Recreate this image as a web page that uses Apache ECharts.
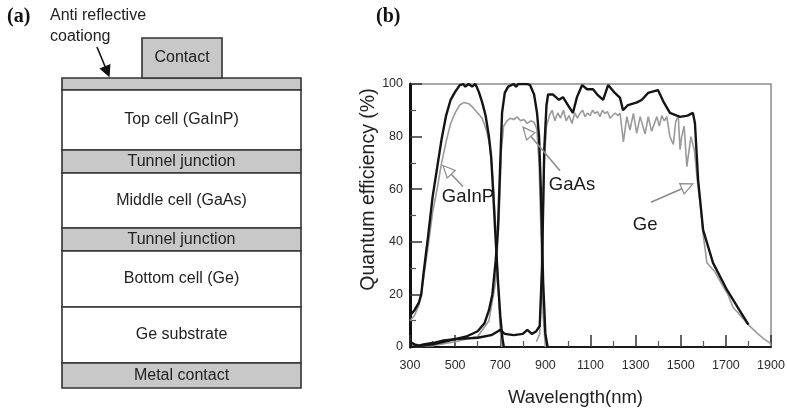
<!DOCTYPE html>
<html><head><meta charset="utf-8">
<script src="https://cdn.jsdelivr.net/npm/echarts@6/dist/echarts.min.js"></script>
<style>html,body{margin:0;padding:0;background:#fff}#c{width:787px;height:408px}</style>
</head><body><div id="c"></div>
<script>
// ---------- data ----------
const gainpIdealX = [300,320,340,350,360,370,380,400,420,440,460,480,500,520,535,545,560,575,590,605,620,635,650,660,668,677,690,700,710,716];
const gainpIdealY = [12,14,17,20,28,35,42,57,68,79,88,94,97,99.5,100,99,100,99,100,97,93,88,80,72,60,45,25,12,3,0];
const gainpMeasX = [300,320,340,360,380,400,420,440,460,480,500,520,540,560,580,600,620,640,655,668,680,690,700,708];
const gainpMeasY = [10,12,16,26,38,51,60,70,78,85,89,92,93,92.5,91,89,87,82,76,63,45,25,6,0];
const gaasIdealX = [300,350,400,450,500,550,600,630,650,665,680,690,700,708,720,735,760,770,780,800,820,832,850,863,872,880,890,900,910];
const gaasIdealY = [0,0.5,1,2,3,4,6,9,14,20,33,45,70,89,96.6,99,100,99,100,100,100,99.6,96,89,80,60,25,5,0];
const gaasMeasX = [300,400,500,600,650,680,695,705,715,730,745,760,775,790,805,820,835,850,862,872,880,890,900];
const gaasMeasY = [0,0.5,2,4,10,25,50,75,84,86,87,86.5,87.5,86,86.5,85,86,85.5,83,70,45,12,0];
const geIdealX = [300,320,340,360,400,450,500,600,660,690,700,720,760,800,820,840,860,875,885,895,905,912,934,960,978,1000,1022,1040,1063,1085,1111,1130,1156,1178,1208,1231,1244,1266,1306,1328,1355,1399,1425,1452,1497,1530,1554,1563,1577,1599,1643,1705,1760,1800];
const geIdealY = [2,1,0.5,1,1.5,2.5,3,3.5,4.5,6,6.5,5,4.5,5,6.5,5,6,8,30,75,92,96,96,94,95,92,89,95,99.6,98,98,96,94,99.6,96.6,94.7,90,92,93,94,96.6,97.7,93,89,87.5,88,89,85,63.5,44.5,32,21.7,14,8.5];
const geMeasX = [860,875,885,895,905,918,930,942,955,967,980,992,1005,1018,1030,1042,1053,1065,1076,1087,1098,1109,1120,1131,1142,1153,1164,1175,1187,1198,1209,1220,1231,1246,1261,1275,1290,1305,1320,1342,1356,1371,1394,1405,1416,1427,1438,1452,1467,1478,1489,1497,1504,1515,1527,1545,1560,1575,1590,1599,1616,1652,1688,1710,1732,1754,1794,1838,1874,1896,1900];
const geMeasY = [2,5,30,70,84,88,90,86,89,87,90,86,88,85,89,87,88.8,90,87.6,89,88,90,88.8,89.5,87.6,90,88.8,89.5,87,88,89,88,88.8,78,87.6,82.5,88.8,81.2,87.6,81,87.6,82,87.6,84,88,86,87.6,80,77,86,87.6,75,80,84,68.6,80,75,62,52,43,32,28.5,23,19.8,15,13,9,5.3,2.7,1.5,0.5];

const xTickLabels = ['300','500','700','900','1100','1300','1500','1700','1900'];
const yTickLabels = ['0','20','40','60','80','100'];

// layer stack of panel (a)
const layerLabels = ['', 'Top cell (GaInP)', 'Tunnel junction', 'Middle cell (GaAs)', 'Tunnel junction', 'Bottom cell (Ge)', 'Ge substrate', 'Metal contact'];
const layerShaded = [true, false, true, false, true, false, false, true];

// annotations [label, tail, head, text position] in data coordinates
const annotations = [
  {text:'GaInP', tail:[535,61], head:[446,69], pos:[557,57]},
  {text:'GaAs',  tail:[965,67], head:[801,83.6], pos:[1018,61.6]},
  {text:'Ge',    tail:[1368,55], head:[1554,62], pos:[1342,46.4]}
];

const zip = (xs, ys) => xs.map((x, i) => [x, ys[i]]);
const FONT = '"Liberation Sans", Arial, sans-serif';
const BLACK = '#141414', GRAY = '#9a9a9a';

const chart = echarts.init(document.getElementById('c'), null, {renderer: 'canvas'});

function line(name, data, color, width, z) {
  return {name, type:'line', data, showSymbol:false, symbol:'none', smooth:false,
    lineStyle:{color, width}, itemStyle:{color}, z, animation:false};
}

const option = {
  animation:false,
  backgroundColor:'#fff',
  grid:{left:410, right:16, top:84, bottom:61, containLabel:false, outerBoundsMode:'none',
    show:true, borderColor:'#8a8a8a', borderWidth:1.5, backgroundColor:'transparent'},
  xAxis:{type:'value', min:300, max:1900, interval:200,
    name:'Wavelength(nm)', nameLocation:'middle', nameGap:41,
    nameTextStyle:{fontFamily:FONT, fontSize:18.5, color:'#222', padding:[0,30,0,0]},
    axisLine:{show:true, lineStyle:{color:'#1a1a1a', width:2}},
    axisTick:{show:true, inside:true, length:12, lineStyle:{color:'#333', width:1.5}},
    minorTick:{show:true, splitNumber:2, length:6, lineStyle:{color:'#555', width:1.2}},
    axisLabel:{fontFamily:FONT, fontSize:12.5, color:'#2a2a2a', margin:12, formatter:(v)=>xTickLabels[(v-300)/200]},
    splitLine:{show:false}},
  yAxis:{type:'value', min:0, max:100, interval:20,
    name:'Quantum efficiency (%)', nameLocation:'middle', nameGap:30, nameRotate:90,
    nameTextStyle:{fontFamily:FONT, fontSize:19.5, color:'#222', padding:[0,0,0,52]},
    axisLine:{show:true, lineStyle:{color:'#111', width:3}},
    axisTick:{show:true, inside:true, length:12, lineStyle:{color:'#333', width:1.5}},
    minorTick:{show:true, splitNumber:2, length:6, lineStyle:{color:'#555', width:1.2}},
    axisLabel:{fontFamily:FONT, fontSize:12.5, color:'#2a2a2a', margin:7, formatter:(v)=>yTickLabels[v/20]},
    splitLine:{show:false}},
  series:[
    line('GaInP measured', zip(gainpMeasX, gainpMeasY), GRAY, 1.6, 2),
    line('GaAs measured', zip(gaasMeasX, gaasMeasY), GRAY, 1.6, 2),
    line('Ge measured', zip(geMeasX, geMeasY), GRAY, 1.6, 2),
    line('GaInP ideal', zip(gainpIdealX, gainpIdealY), BLACK, 2.4, 3),
    line('GaAs ideal', zip(gaasIdealX, gaasIdealY), BLACK, 2.4, 3),
    line('Ge ideal', zip(geIdealX, geIdealY), BLACK, 2.4, 3)
  ]
};
chart.setOption(option);

// ---------- graphics: panel (a) diagram, panel labels, annotation arrows ----------
function arrow(tail, head, stroke, fill, len, half, lw) {
  const dx = head[0]-tail[0], dy = head[1]-tail[1], L = Math.hypot(dx, dy);
  const ux = dx/L, uy = dy/L, bx = head[0]-ux*len, by = head[1]-uy*len, px = -uy, py = ux;
  return [
    {type:'line', shape:{x1:tail[0], y1:tail[1], x2:bx, y2:by}, style:{stroke, lineWidth:lw}, z:10},
    {type:'polygon', shape:{points:[[head[0],head[1]],[bx+px*half,by+py*half],[bx-px*half,by-py*half]]}, style:{fill, stroke, lineWidth:1.2}, z:10}
  ];
}

const g = [];
// panel labels
g.push({type:'text', left:7, top:7, style:{text:'(a)', font:'bold 20px "Liberation Serif", "Times New Roman", serif', fill:'#111'}});
g.push({type:'text', left:376, top:7, style:{text:'(b)', font:'bold 20px "Liberation Serif", "Times New Roman", serif', fill:'#111'}});
g.push({type:'text', left:50, top:5, style:{text:'Anti reflective\ncoationg', font:'16px '+FONT, fill:'#222', lineHeight:21}});
g.push(...arrow([97,47],[109,76],'#111','#111',10,5,1.6));
// layer stack
const stackLeft = 62, stackRight = 301;
const edges = [78,90,150,173,228,251,307,363,388];
layerLabels.forEach((lab, i) => {
  const y0 = edges[i], y1 = edges[i+1];
  g.push({type:'rect', shape:{x:stackLeft, y:y0, width:stackRight-stackLeft, height:y1-y0},
    style:{fill: layerShaded[i] ? '#c8c8c8' : '#fff', stroke:'#333', lineWidth:1.6}, z:1});
  if (lab) g.push({type:'text', x:(stackLeft+stackRight)/2, y:(y0+y1)/2, z:2,
    style:{text:lab, font:'16px '+FONT, fill:'#222', textAlign:'center', textVerticalAlign:'middle'}});
});
// contact
g.push({type:'rect', shape:{x:142, y:38, width:80, height:40}, style:{fill:'#c8c8c8', stroke:'#333', lineWidth:1.6}, z:1});
g.push({type:'text', x:182, y:58, z:2, style:{text:'Contact', font:'16px '+FONT, fill:'#222', textAlign:'center', textVerticalAlign:'middle'}});

// annotations in data space
annotations.forEach(a => {
  const t = chart.convertToPixel({gridIndex:0}, a.tail);
  const h = chart.convertToPixel({gridIndex:0}, a.head);
  const p = chart.convertToPixel({gridIndex:0}, a.pos);
  g.push(...arrow(t, h, '#8c8c8c', '#fff', 12, 5.5, 1.6));
  g.push({type:'text', x:p[0], y:p[1], z:11, style:{text:a.text, font:'18.5px '+FONT, fill:'#1a1a1a', textAlign:'center', textVerticalAlign:'middle'}});
});
chart.setOption({graphic:g});
</script>
</body></html>
